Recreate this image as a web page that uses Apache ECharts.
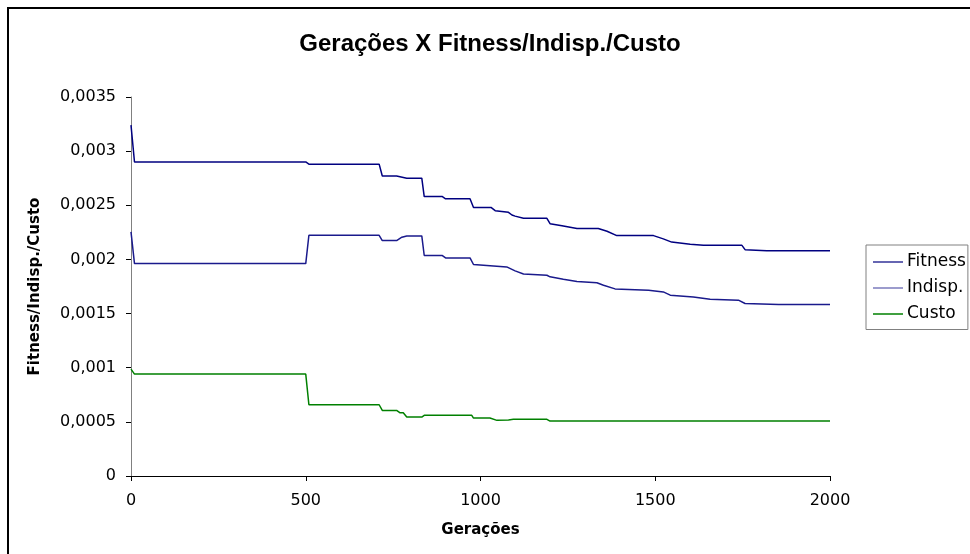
<!DOCTYPE html>
<html>
<head>
<meta charset="utf-8">
<script src="https://cdn.jsdelivr.net/npm/echarts@6/dist/echarts.min.js"></script>
<style>
  html, body { margin: 0; padding: 0; background: #fff; }
  #chart { width: 970px; height: 554px; }
</style>
</head>
<body>
<div id="chart"></div>
<script>
// x ticks / y ticks
const xTicks = [0, 500, 1000, 1500, 2000];
const yTicks = [0, 0.0005, 0.001, 0.0015, 0.002, 0.0025, 0.003, 0.0035];

// Fitness
const fitnessGen = [0, 10, 500, 509, 710, 719, 760, 789, 832, 839, 891, 900, 970, 980, 1030, 1042, 1080, 1090, 1099, 1123, 1190, 1199, 1233, 1276, 1337, 1362, 1390, 1495, 1523, 1547, 1600, 1638, 1748, 1757, 1819, 2000];
const fitnessVal = [0.00324, 0.0029, 0.0029, 0.00288, 0.00288, 0.00277, 0.00277, 0.00275, 0.00275, 0.00258, 0.00258, 0.00256, 0.00256, 0.00248, 0.00248, 0.00245, 0.002435, 0.00241, 0.0024, 0.00238, 0.00238, 0.00233, 0.00231, 0.002285, 0.002285, 0.00226, 0.00222, 0.00222, 0.00219, 0.00216, 0.00214, 0.00213, 0.00213, 0.00209, 0.00208, 0.00208];

// Indisp.
const indispGen = [0, 10, 500, 509, 710, 719, 760, 775, 789, 832, 839, 891, 900, 970, 980, 1037, 1075, 1099, 1123, 1190, 1199, 1237, 1276, 1333, 1352, 1385, 1481, 1523, 1543, 1609, 1657, 1738, 1757, 1853, 2000];
const indispVal = [0.002254, 0.001962, 0.001962, 0.002223, 0.002223, 0.002174, 0.002174, 0.002205, 0.002217, 0.002217, 0.002036, 0.002036, 0.002014, 0.002014, 0.001953, 0.00194, 0.001931, 0.001894, 0.001866, 0.001854, 0.001839, 0.001817, 0.001796, 0.001784, 0.001762, 0.001728, 0.001716, 0.0017, 0.00167, 0.001654, 0.001633, 0.001624, 0.001593, 0.001584, 0.001584];

// Custo
const custoGen = [0, 10, 500, 509, 710, 719, 760, 770, 779, 789, 832, 839, 975, 980, 1027, 1047, 1080, 1094, 1190, 1199, 2000];
const custoVal = [0.000987, 0.000941, 0.000941, 0.000658, 0.000658, 0.000606, 0.000606, 0.000584, 0.000584, 0.000544, 0.000544, 0.00056, 0.00056, 0.000535, 0.000535, 0.000514, 0.000518, 0.000523, 0.000523, 0.000507, 0.000507];

const pairs = (xs, ys) => xs.map((x, i) => [x, ys[i]]);
const font = "'DejaVu Sans', sans-serif";

const option = {
  animation: false,
  backgroundColor: "#fff",
  textStyle: { fontFamily: font },
  title: {
    text: "Gerações X Fitness/Indisp./Custo",
    left: 485,
    textAlign: "center",
    top: 27,
    textStyle: { fontFamily: "'Liberation Sans', Arial, sans-serif", fontSize: 24, fontWeight: "bold", color: "#000" },
  },
  graphic: [
    {
      type: "rect",
      shape: { x: 8, y: 8, width: 1000, height: 600 },
      style: { fill: "none", stroke: "#000", lineWidth: 2 },
      silent: true,
    },
  ],
  legend: {
    orient: "vertical",
    left: 866,
    top: 245,
    icon: "rect",
    itemWidth: 30,
    itemHeight: 1.5,
    itemGap: 9,
    padding: [8.5, 2, 7, 7],
    borderColor: "#808080",
    borderWidth: 1,
    textStyle: { fontFamily: font, fontSize: 17, lineHeight: 17, color: "#000", padding: [0, 0, 0, -1] },
    data: [
      { name: "Fitness", itemStyle: { color: "#333399" } },
      { name: "Indisp.", itemStyle: { color: "#7b7bbd" } },
      { name: "Custo", itemStyle: { color: "#008000" } },
    ],
  },
  grid: { left: 131, top: 97, right: 140, bottom: 78, containLabel: false },
  xAxis: {
    type: "value",
    min: xTicks[0],
    max: xTicks[xTicks.length - 1],
    interval: 500,
    name: "Gerações",
    nameLocation: "middle",
    nameGap: 47,
    nameTextStyle: { fontFamily: font, fontSize: 15, fontWeight: "bold", color: "#000" },
    axisLine: { lineStyle: { color: "#000", width: 1 } },
    axisTick: { show: true, length: 5, lineStyle: { color: "#000" } },
    axisLabel: { fontFamily: font, fontSize: 16, color: "#000", margin: 17, formatter: (v) => String(v) },
    splitLine: { show: false },
  },
  yAxis: {
    type: "value",
    min: yTicks[0],
    max: yTicks[yTicks.length - 1],
    interval: 0.0005,
    name: "Fitness/Indisp./Custo",
    nameLocation: "middle",
    nameGap: 88,
    nameTextStyle: { fontFamily: font, fontSize: 15, fontWeight: "bold", color: "#000" },
    axisLine: { show: true, lineStyle: { color: "#808080", width: 1 } },
    axisTick: { show: true, length: 5, lineStyle: { color: "#000" } },
    axisLabel: {
      fontFamily: font,
      fontSize: 16,
      color: "#000",
      margin: 15,
      formatter: (v) => String(v).replace(".", ","),
    },
    splitLine: { show: false },
  },
  series: [
    {
      name: "Fitness",
      type: "line",
      symbol: "none",
      color: "#000080",
      lineStyle: { width: 1.5, color: "#000080" },
      data: pairs(fitnessGen, fitnessVal),
    },
    {
      name: "Indisp.",
      type: "line",
      symbol: "none",
      color: "#1a1a8c",
      lineStyle: { width: 1.5, color: "#1a1a8c" },
      data: pairs(indispGen, indispVal),
    },
    {
      name: "Custo",
      type: "line",
      symbol: "none",
      color: "#008000",
      lineStyle: { width: 1.5, color: "#008000" },
      data: pairs(custoGen, custoVal),
    },
  ],
};

const myChart = echarts.init(document.getElementById("chart"));
myChart.setOption(option);
</script>
</body>
</html>
